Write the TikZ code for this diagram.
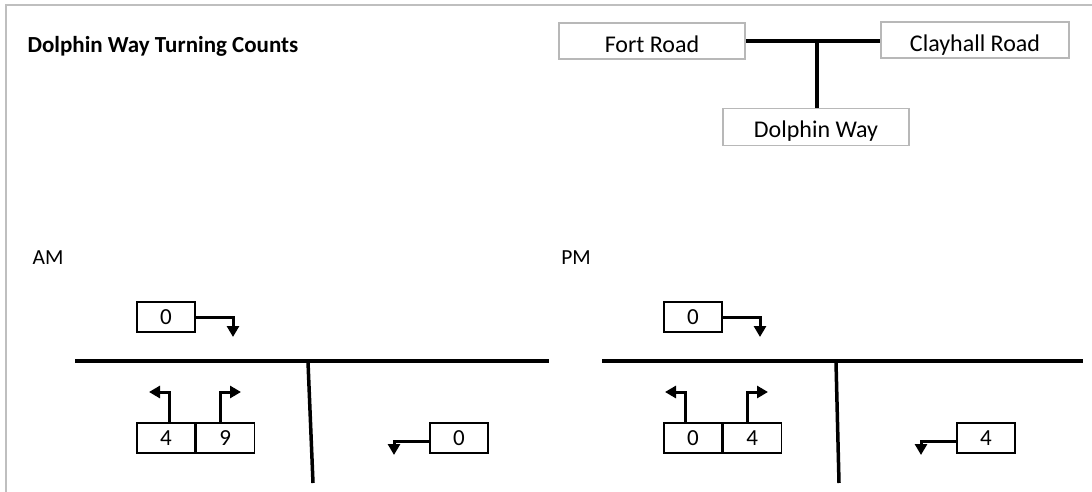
\documentclass[tikz,border=0pt]{standalone}
\usepackage{fontspec}
\setmainfont{Carlito}
\usetikzlibrary{arrows.meta, positioning}
\tikzstyle{road}  = [line width=3.5pt]
\tikzstyle{turn}  = [line width=3pt,-{Triangle[width=12pt,length=11pt]}]
\tikzstyle{count} = [draw,line width=1.1pt,minimum width=58pt,minimum height=30pt,
                     inner sep=0pt,font=\fontsize{23}{27}\selectfont]
\tikzstyle{legend}= [draw=black!28,line width=1.6pt,minimum width=186pt,minimum height=36pt,
                     inner sep=0pt,text height=23pt,text depth=0pt,font=\fontsize{24}{28}\selectfont]

\begin{document}
\begin{tikzpicture}[x=1pt,y=-1pt]
  \useasboundingbox (0,0) rectangle (1092,492);
  \draw[black!25,line width=2pt] (6,492) -- (6,5) -- (1092,5);

  \node[anchor=base west,font=\bfseries\fontsize{23}{27}\selectfont] (title) at (24,53)
    {Dolphin Way Turning Counts};

  % key
  \node[legend] (fort) at (652,41) {Fort Road};
  \node[legend,minimum width=188pt] (clay) at (975,40) {Clayhall Road};
  \node[legend,minimum height=37pt,text height=21pt] (dolphin) at (816,127) {Dolphin Way};
  \coordinate (j) at (817,42);
  \draw[road] (fort.east) -- (fort.east -| clay.west);
  \draw[road] (j) -- (j |- dolphin.north);

  % AM
  \node[font=\fontsize{21.5}{25}\selectfont] (am) at (48,258) {AM};
  \coordinate (amW) at (75,361);
  \coordinate (amE) at (549,361);
  \coordinate (amJ) at (308,362);
  \coordinate (amS) at (313,483);
  \draw[road] (amW) -- (amE);
  \draw[road] (amJ) -- (amS);
  \node[count] (amT) at (166,317) {0};
  \node[count] (amL) at (166,438) {4};
  \node[count,right=0pt of amL] (amA) {9};
  \node[count] (amR) at (459,438) {0};
  \coordinate (amT1) at (233,337);
  \coordinate (amL1) at (149,392);
  \coordinate (amA1) at (241,392);
  \coordinate (amR1) at (394,455);
  \draw[turn] (amT.east) -| (amT1);
  \draw[turn] ([xshift=3pt]amL.north) |- (amL1);
  \draw[turn] ([xshift=-5pt]amA.north) |- (amA1);
  \draw[turn] ([yshift=-3pt]amR.west) -| (amR1);

  % PM
  \node[font=\fontsize{21.5}{25}\selectfont] (pm) at (576,258) {PM};
  \coordinate (pmW) at (602,361);
  \coordinate (pmE) at (1083,361);
  \coordinate (pmJ) at (836,362);
  \coordinate (pmS) at (839,483);
  \draw[road] (pmW) -- (pmE);
  \draw[road] (pmJ) -- (pmS);
  \node[count] (pmT) at (693,317) {0};
  \node[count] (pmL) at (693,438) {0};
  \node[count,right=0pt of pmL] (pmA) {4};
  \node[count] (pmR) at (986,438) {4};
  \coordinate (pmT1) at (760,337);
  \coordinate (pmL1) at (665,392);
  \coordinate (pmA1) at (768,392);
  \coordinate (pmR1) at (921,455);
  \draw[turn] (pmT.east) -| (pmT1);
  \draw[turn] ([xshift=-8pt]pmL.north) |- (pmL1);
  \draw[turn] ([xshift=-5pt]pmA.north) |- (pmA1);
  \draw[turn] ([yshift=-3pt]pmR.west) -| (pmR1);
\end{tikzpicture}
\end{document}
